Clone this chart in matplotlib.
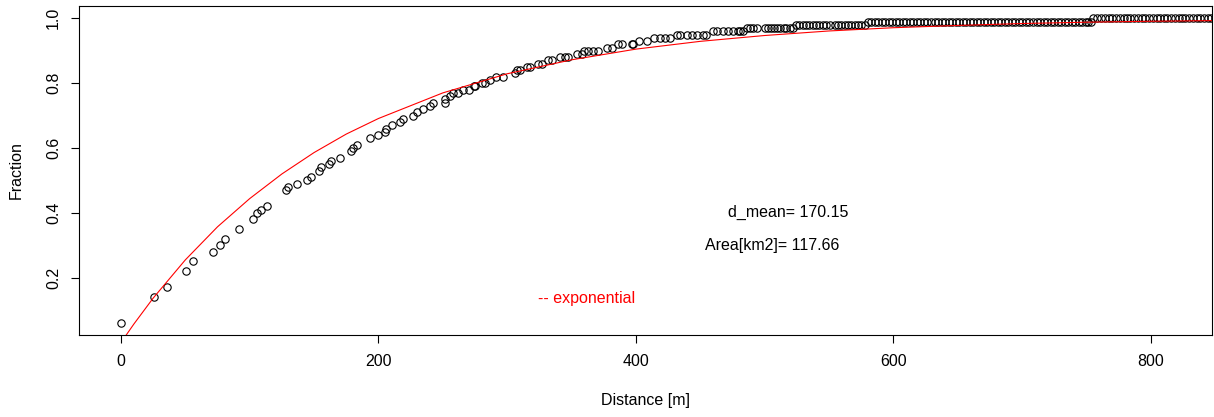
import matplotlib
matplotlib.use("Agg")
import matplotlib.pyplot as plt

plt.rcParams['font.family'] = ['Liberation Sans', 'DejaVu Sans']

# Empirical fraction of points within a distance (read from the picture)
# scattered part of the curve
distance_low = [
    0, 25.9, 36.0, 50.8, 56.2, 71.7, 77.2, 80.7, 91.8, 102.2, 105.4, 108.5, 113.4,
    127.9, 130.0, 136.5, 144.2, 147.6, 154.0, 155.4, 161.8, 163.1, 170.1, 178.4, 180.4, 183.5,
    193.4, 199.8, 205.0, 205.8, 210.7, 216.7, 219.3, 227.0, 229.7, 234.4, 240.0,
    242.1, 251.7, 251.7, 255.6, 258.1, 262.0, 265.9, 270.6, 274.4, 274.9,
    280.1, 282.7, 286.6, 291.0, 297.0, 306.0, 307.8, 309.9, 315.1, 317.7,
    324.2, 326.7, 331.9, 334.5, 341.0, 344.9, 347.4, 353.9, 357.8,
    359.6, 362.9, 366.9, 370.8, 377.2, 381.2, 386.3, 388.9, 396.7, 397.9,
    402.6, 408.3, 414.0, 418.7, 422.6, 426.4,
    432.0, 434.2, 439.4, 443.2, 447.1, 452.3, 454.4,
    460.1, 462.7, 467.9, 471.7, 475.6, 479.4, 480.8, 483.3,
]
fraction_low = [
    0.06, 0.14, 0.17, 0.22, 0.25, 0.28, 0.30, 0.32, 0.35, 0.38, 0.40, 0.41, 0.42,
    0.47, 0.48, 0.49, 0.50, 0.51, 0.53, 0.54, 0.55, 0.56, 0.57, 0.59, 0.60, 0.61,
    0.63, 0.64, 0.65, 0.66, 0.67, 0.68, 0.69, 0.70, 0.71, 0.72, 0.73,
    0.74, 0.74, 0.75, 0.76, 0.77, 0.77, 0.78, 0.78, 0.79, 0.79,
    0.80, 0.80, 0.81, 0.82, 0.82, 0.83, 0.84, 0.84, 0.85, 0.85,
    0.86, 0.86, 0.87, 0.87, 0.88, 0.88, 0.88, 0.89, 0.89,
    0.90, 0.90, 0.90, 0.90, 0.91, 0.91, 0.92, 0.92, 0.92, 0.92,
    0.93, 0.93, 0.94, 0.94, 0.94, 0.94,
    0.95, 0.95, 0.95, 0.95, 0.95, 0.95, 0.95,
    0.96, 0.96, 0.96, 0.96, 0.96, 0.96, 0.96, 0.96,
]
# dense runs near the top
run_097 = [486.0, 488.5, 491.2, 494.2, 500.2, 502.6, 505.1, 507.2, 509.7, 512.3,
           514.8, 516.8, 519.4, 521.9]
run_098 = [524.3, 527.0, 529.6, 532.1, 534.7, 537.2, 539.8, 542.3, 545.4, 547.9, 550.5,
           554.6, 557.1, 559.7, 562.2, 564.8, 567.3, 569.8, 572.4, 574.9, 578.0]
run_099 = [580.0, 582.6, 585.5, 588.2, 590.9, 593.7, 596.3, 599.1, 601.8, 604.6,
           607.3, 610.1, 612.8, 615.5, 618.3, 621.0, 623.7, 626.5, 629.2, 632.0,
           634.6, 637.4, 640.1, 642.9, 645.6, 648.3, 651.1, 653.8, 656.5, 659.3,
           662.0, 664.8, 667.4, 670.2, 672.9, 675.7, 678.4, 681.1, 683.9, 686.6,
           689.3, 692.1, 694.8, 697.6, 700.2, 703.0, 705.7, 708.5, 711.2, 713.9,
           716.7, 719.4, 722.1, 724.9, 727.6, 730.4, 733.0, 735.8, 738.5, 741.3,
           744.0, 746.7, 749.5, 751.2, 753.3]
run_100 = [755.4, 758.5, 761.5, 764.6, 767.2, 769.7, 772.8, 775.9, 778.9, 781.5,
           784.0, 787.1, 790.1, 793.2, 795.7, 798.3, 801.3, 804.4, 807.4, 810.0,
           812.5, 815.6, 818.6, 821.7, 824.2, 826.8, 829.8, 832.9, 835.9, 838.5,
           841.0, 844.1, 847.1, 850.2]

distance_m = distance_low + run_097 + run_098 + run_099 + run_100
fraction = (fraction_low + [0.97] * len(run_097) + [0.98] * len(run_098)
            + [0.99] * len(run_099) + [1.00] * len(run_100))

# Fitted exponential curve
curve_x = [0, 10, 25, 50, 75, 100, 125, 150, 175, 200, 250, 300, 350, 400,
           450, 500, 550, 600, 650, 700, 750, 800, 850]
curve_y = [0.0, 0.057, 0.137, 0.255, 0.357, 0.444, 0.520, 0.586, 0.643, 0.691,
           0.770, 0.829, 0.872, 0.905, 0.929, 0.947, 0.961, 0.971, 0.978,
           0.984, 0.988, 0.991, 0.993]

x_ticks = [0, 200, 400, 600, 800]
y_ticks = [0.2, 0.4, 0.6, 0.8, 1.0]
y_tick_labels = ["0.2", "0.4", "0.6", "0.8", "1.0"]

W, H = 1214, 417
fig = plt.figure(figsize=(W / 100, H / 100), dpi=100)
ax = fig.add_axes([79 / W, 1 - 335 / H, (1212 - 79) / W, (335 - 6) / H])

ax.plot(distance_m, fraction, linestyle='none', marker='o', markersize=5.3,
        markerfacecolor='none', markeredgecolor='black', markeredgewidth=0.8)
ax.plot(curve_x, curve_y, color='red', linewidth=0.8)

ax.set_xlim(-32.6, 847.5)
ax.set_ylim(0.0233, 1.038)
ax.set_xticks(x_ticks)
ax.set_xticklabels([str(t) for t in x_ticks])
ax.set_yticks(y_ticks)
ax.set_yticklabels(y_tick_labels, rotation=90, va='center')

for s in ax.spines.values():
    s.set_linewidth(0.8)
    s.set_color('black')
ax.tick_params(axis='both', length=5.8, width=0.8, labelsize=11.5, color='black')
ax.tick_params(axis='x', pad=8)
ax.tick_params(axis='y', pad=7)

ax.text(518, 0.40, "d_mean= 170.15", ha='center', va='center', fontsize=11.5)
ax.text(506, 0.30, "Area[km2]= 117.66", ha='center', va='center', fontsize=11.5)
ax.text(361.6, 0.137, "-- exponential", ha='center', va='center', fontsize=11.5, color='red')

fig.text(16.7 / W, 1 - 170.5 / H, "Fraction", rotation=90, ha='center', va='center', fontsize=11.5)
fig.text(645.5 / W, 1 - 401 / H, "Distance [m]", ha='center', va='center', fontsize=11.5)

fig.savefig("out.png", dpi=100)
